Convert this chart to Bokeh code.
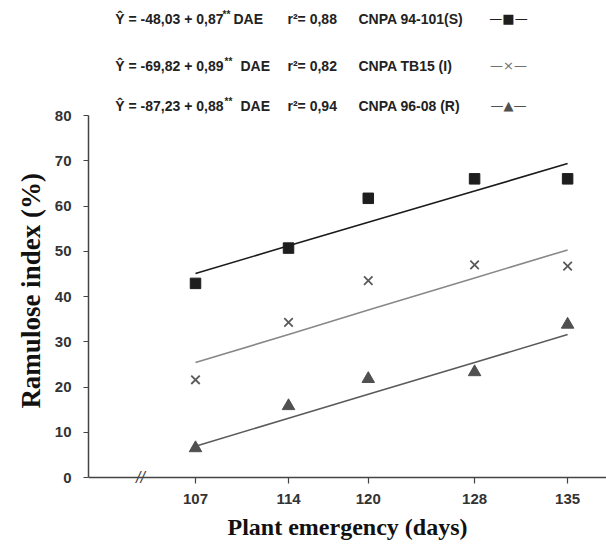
import math
from bokeh.plotting import figure
from bokeh.models import Range1d, FixedTicker, Label, Span
from bokeh.layouts import row
from bokeh.embed import file_html
from bokeh.resources import INLINE

# ---- data ----
days = [107, 114, 120, 128, 135]
tick_labels = ["107", "114", "120", "128", "135"]
s_obs = [42.9, 50.7, 61.7, 66.0, 66.0]
i_obs = [21.6, 34.3, 43.5, 47.0, 46.7]
r_obs = [6.5, 15.8, 21.8, 23.3, 33.8]
s_fit = [45.1, 51.2, 56.4, 63.3, 69.4]
i_fit = [25.4, 31.6, 37.0, 44.1, 50.3]
r_fit = [6.9, 13.1, 18.4, 25.4, 31.6]
eq_texts = ["Ŷ = -48,03 + 0,87", "Ŷ = -69,82 + 0,89", "Ŷ = -87,23 + 0,88"]
dae_texts = ["DAE", "DAE", "DAE"]
r2_texts = ["r²= 0,88", "r²= 0,82", "r²= 0,94"]
names = ["CNPA 94-101(S)", "CNPA TB15 (I)", "CNPA 96-08 (R)"]
symbols = ["—■—", "—×—", "—▲—"]
sym_colors = ["#1e1e1e", "#707070", "#505050"]
y_title = "Ramulose index  (%)"
x_title = "Plant emergency (days)"

PXD = 13.29   # px per day
PXY = 4.525   # px per %
W, H = 606, 548
LEFT = 50     # width of the strip holding the y title
AXIS_X = 88   # page x of the y axis
AXIS_Y = 477  # page y of the x axis (value 0)
BELOW = 6     # frame extends this many px below y=0
FRAME_W = W - AXIS_X
FRAME_H = AXIS_Y + BELOW

# ---------- left strip with the y title ----------
left = figure(frame_width=LEFT, frame_height=H, output_backend="svg",
              toolbar_location=None, x_range=Range1d(0, LEFT), y_range=Range1d(0, H),
              x_axis_type=None, y_axis_type=None,
              min_border_left=0, min_border_right=0, min_border_top=0, min_border_bottom=0)
left.outline_line_color = None
left.xgrid.visible = False
left.ygrid.visible = False
left.add_layout(Label(x=30, y=H - 287, text=y_title, angle=math.pi / 2,
                      text_align="center", text_baseline="middle",
                      text_font="Liberation Serif", text_font_style="bold",
                      text_font_size="27px", text_color="#111111"))

# ---------- main chart ----------
x0 = 107 - (195 - AXIS_X) / PXD
p = figure(frame_width=FRAME_W, frame_height=FRAME_H, output_backend="svg",
           toolbar_location=None,
           x_range=Range1d(x0, x0 + FRAME_W / PXD),
           y_range=Range1d(-BELOW / PXY, AXIS_Y / PXY),
           min_border_left=AXIS_X - LEFT, min_border_right=0, min_border_top=0,
           min_border_bottom=H - FRAME_H)
p.outline_line_color = None
p.xgrid.visible = False
p.ygrid.visible = False
p.background_fill_color = "white"

for ax in (p.xaxis[0], p.yaxis[0]):
    ax.axis_line_color = "#444444"
    ax.axis_line_width = 1.5
    ax.major_tick_line_color = "#444444"
    ax.major_tick_line_width = 1.2
    ax.minor_tick_line_color = None
    ax.major_label_text_font = "Liberation Sans"
    ax.major_label_text_font_style = "bold"
    ax.major_label_text_font_size = "15px"
    ax.major_label_text_color = "#333333"
    ax.axis_label_text_font = "Liberation Serif"
    ax.axis_label_text_font_style = "bold"
    ax.axis_label_text_color = "#111111"

p.xaxis.ticker = FixedTicker(ticks=days)
p.xaxis.major_label_overrides = {d: t for d, t in zip(days, tick_labels)}
p.xaxis.axis_line_color = None
p.xaxis.major_tick_in = BELOW
p.xaxis.major_tick_out = 0
p.xaxis.axis_label = x_title
p.xaxis.axis_label_text_font_size = "24px"
p.xaxis.major_label_standoff = 10
p.xaxis.axis_label_standoff = 7

p.yaxis.ticker = FixedTicker(ticks=list(range(0, 81, 10)))
p.yaxis.bounds = (0, 80)
p.yaxis.major_tick_out = 5
p.yaxis.major_tick_in = 0
p.yaxis.major_label_standoff = 12

# x axis line at y = 0
p.add_layout(Span(location=0, dimension="width", line_color="#444444", line_width=1.5))

# regression lines
p.line(days, s_fit, line_color="#1a1a1a", line_width=1.6)
p.line(days, i_fit, line_color="#888888", line_width=1.6)
p.line(days, r_fit, line_color="#5a5a5a", line_width=1.6)

# observations
p.scatter(days, s_obs, marker="square", size=10.5, fill_color="#1e1e1e", line_color="#1e1e1e")
p.scatter(days, i_obs, marker="x", size=12, line_color="#5a5a5a", line_width=1.8)
p.scatter(days, r_obs, marker="triangle", size=12.5, fill_color="#505050", line_color="#505050")


def dx(px):
    return 107 + (px - 195) / PXD


def dy(py):
    return (AXIS_Y - py) / PXY


font = "Liberation Sans"
rows_y = [18, 65, 105]
dae_x = [233, 240, 240]
star_x = [222, 224, 224]
for k in range(3):
    yc = rows_y[k]
    common = dict(text_font=font, text_font_style="bold", text_color="#222222",
                  text_baseline="middle")
    p.add_layout(Label(x=dx(223), y=dy(yc), text=eq_texts[k], text_align="right",
                       text_font_size="14px", **common))
    p.add_layout(Label(x=dx(star_x[k]), y=dy(yc - 4), text="**", text_align="left",
                       text_font_size="10px", **common))
    p.add_layout(Label(x=dx(dae_x[k]), y=dy(yc), text=dae_texts[k], text_align="left",
                       text_font_size="14px", **common))
    p.add_layout(Label(x=dx(287), y=dy(yc), text=r2_texts[k], text_align="left",
                       text_font_size="14px", **common))
    p.add_layout(Label(x=dx(358), y=dy(yc), text=names[k], text_align="left",
                       text_font_size="14px", **common))
    p.add_layout(Label(x=dx(508), y=dy(yc), text=symbols[k], text_align="center",
                       text_baseline="middle", text_font="DejaVu Sans",
                       text_font_size="13px", text_color=sym_colors[k]))

# axis break mark
p.add_layout(Label(x=dx(140), y=0, text="//", text_align="center", text_baseline="middle",
                   text_font=font, text_font_style="italic", text_font_size="16px",
                   text_color="#444444"))

layout = row(left, p, spacing=0)
open("out.html", "w").write(file_html(layout, INLINE))
